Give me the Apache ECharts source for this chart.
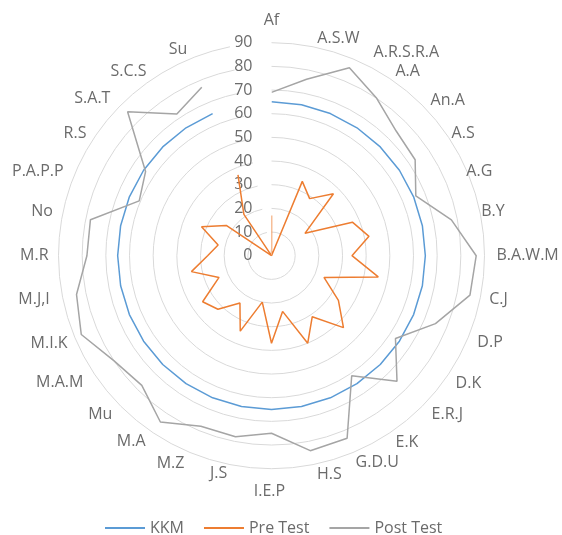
<!DOCTYPE html>
<html>
<head>
<meta charset="utf-8">
<script src="https://cdn.jsdelivr.net/npm/echarts@6/dist/echarts.min.js"></script>
<style>
html,body{margin:0;padding:0;background:#fff;}
#chart{width:562px;height:535px;}
</style>
</head>
<body>
<div id="chart"></div>
<script>
var categories = ['Af','A.S.W','A.R.S.R.A','A.A','An.A','A.S','A.G','B.Y','B.A.W.M','C.J','D.P','D.K','E.R.J','E.K','G.D.U','H.S','I.E.P','J.S','M.Z','M.A','Mu','M.A.M','M.I.K','M.J,I','M.R','No','P.A.P.P','R.S','S.A.T','S.C.S','Su',''];
var kkm = [65,65,65,65,65,65,65,65,65,65,65,65,65,65,65,65,65,65,65,65,65,65,65,65,65,65,65,65,65,65,65,null];
var preTest = [17,0,34,29,37,17,37,42,34,46,24,34,43,31,40,24,37,20,34.5,24,32,35,24,34.5,27,23,32,23,0,21,37,null];
var postTest = [69,76,86,80,74.5,73,66,77.5,86.5,85.5,75,63,75,61,83.5,84,75,78,78,84.5,77.5,80,87,84,78,78,60.5,64,86,72,77,null];
var radiusTicks = {min:0, max:90, interval:10};

// label nudges (padding: top, right, bottom, left) to mimic the original label placement
var labelPad = [
  [0,0,2,0],[0,0,-11,46],[0,0,-13,16],[0,0,-11,-1],[0,0,-12,0],[0,0,-11,-7],[0,0,-10,-13],[0,0,0,-11],
  [0,0,0,0],[0,0,0,-3],[-7,0,0,-2],[-5,0,0,-3],[-8,0,0,1],[-8,0,0,-1],[-9,0,0,-2],[-10,0,0,28],
  [3,4,0,0],[-11,18,0,0],[-8,1,0,0],[-9,1,0,0],[-8,0,0,0],[-6,1,0,0],[-6,-4,0,0],[0,1,0,0],
  [0,-2,0,0],[0,-2,0,0],[0,0,-10,0],[0,-2,-11,0],[0,2,-10,0],[0,0,-11,0],[0,-2,-10,0],[0,0,0,0]
];
var angleData = categories.map(function(c, i){ return {value:c, textStyle:{padding:labelPad[i]}}; });

var chart = echarts.init(document.getElementById('chart'));
var font = '"Open Sans", "Noto Sans", sans-serif';
chart.setOption({
  animation:false,
  textStyle:{fontFamily:font},
  polar:{center:[271.5,255.7], radius:213},
  angleAxis:{
    type:'category', data:angleData, startAngle:90, clockwise:true, boundaryGap:false,
    axisLine:{show:false}, axisTick:{show:false}, splitLine:{show:false},
    axisLabel:{interval:0, color:'#6b6b6b', fontSize:16, fontFamily:font, margin:12}
  },
  radiusAxis:{
    min:radiusTicks.min, max:radiusTicks.max, interval:radiusTicks.interval,
    axisLine:{show:false}, axisTick:{show:false},
    splitLine:{show:true, lineStyle:{color:'#d9d9d9', width:1}},
    axisLabel:{color:'#6b6b6b', fontSize:16, fontFamily:font, margin:19}
  },
  legend:{
    left:100, top:515, itemWidth:40, itemHeight:2, itemGap:20, icon:'rect',
    textStyle:{color:'#6b6b6b', fontSize:16, fontFamily:font},
    data:['KKM','Pre Test','Post Test']
  },
  series:[
    {name:'KKM', type:'line', coordinateSystem:'polar', data:kkm, symbol:'none', lineStyle:{color:'#5b9bd5', width:1.5}, itemStyle:{color:'#5b9bd5'}},
    {name:'Pre Test', type:'line', coordinateSystem:'polar', data:preTest, symbol:'none', lineStyle:{color:'#ed7d31', width:1.5}, itemStyle:{color:'#ed7d31'}},
    {name:'Post Test', type:'line', coordinateSystem:'polar', data:postTest, symbol:'none', lineStyle:{color:'#a5a5a5', width:1.5}, itemStyle:{color:'#a5a5a5'}}
  ]
});
</script>
</body>
</html>
